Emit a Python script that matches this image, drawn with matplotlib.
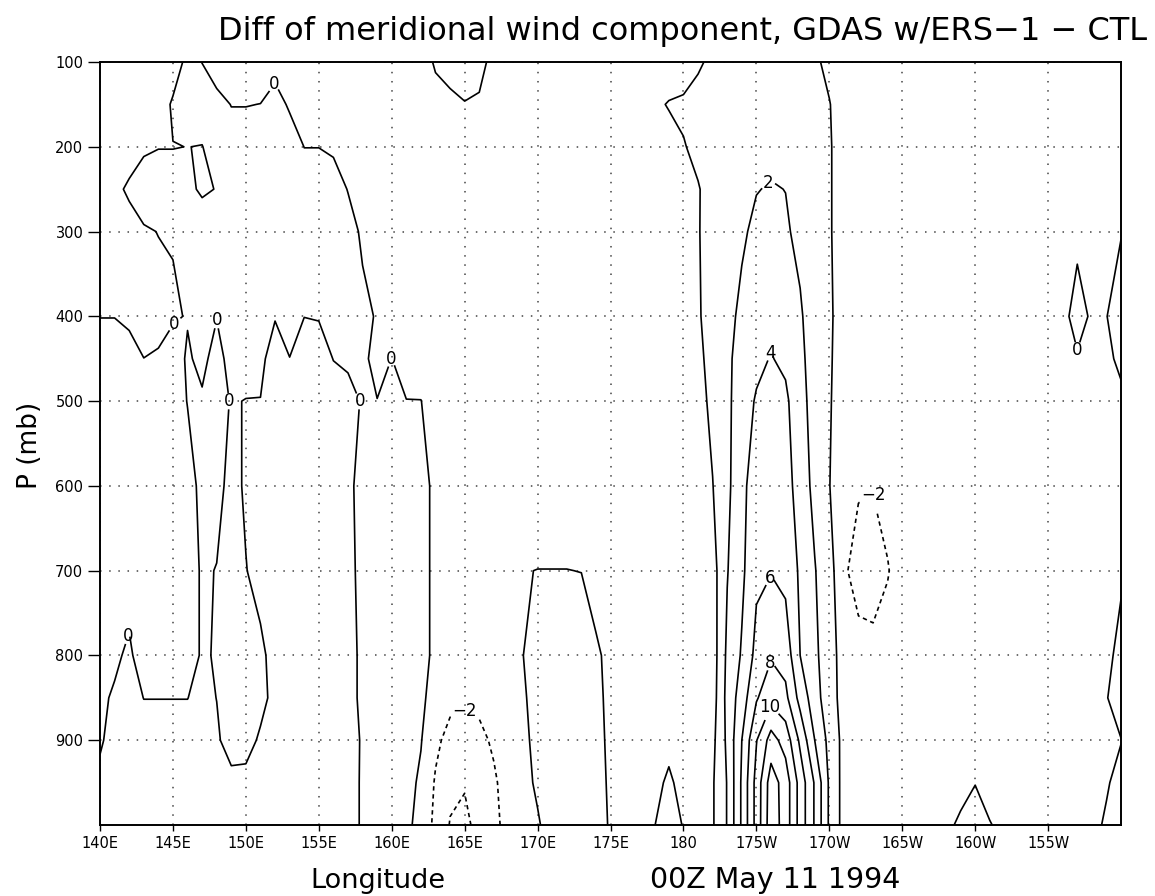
import matplotlib
matplotlib.use("Agg")
import matplotlib.pyplot as plt
import numpy as np

# --- Text -------------------------------------------------------------------
TITLE = "Diff of meridional wind component, GDAS w/ERS\u22121 \u2212 CTL"
YLABEL = "P (mb)"
XLABEL = "Longitude"
DATE_LABEL = "00Z May 11 1994"

# --- Grid: longitude (deg E, 210 = 150W) and pressure levels (mb) ------------
LON = list(range(140, 211))
PRES = [100, 150, 200, 250, 300, 400, 450, 500, 600, 700, 800, 850, 900, 950, 1000]

# --- Meridional wind difference (m/s), one list per level, 140E..150W -------
V100 = [
    -1.0, -1.0, -1.0, -1.0, -0.9, -0.8, 0.4, -0.02, -1.0, -1.0,
    -1.0, -1.0, -0.6, -1.0, -1.0, -1.0, -1.0, -1.0, -1.0, -1.0,
    -1.0, -1.0, -0.8, 0.2, 0.5, 0.6, 0.5, -0.5, -1.0, -1.0,
    -1.0, -1.0, -1.0, -1.0, -1.0, -1.0, -1.0, -1.0, -1.0, -1.0,
    -1.0, -0.2, 0.3, 0.6, 0.8, 1.0, 1.0, 0.9, 0.7, 0.2,
    -0.3, -0.8, -0.8, -0.8, -0.8, -0.8, -0.8, -0.8, -0.8, -0.8,
    -0.8, -0.8, -0.8, -0.8, -0.8, -0.8, -0.8, -0.8, -0.8, -0.8,
    -0.8]
V150 = [
    -0.9, -0.9, -0.9, -0.9, -0.8, 0.2, 0.6, 0.6, 0.6, -0.05,
    -0.05, 0.02, 0.6, -0.2, -0.8, -0.8, -0.8, -0.9, -1.0, -1.0,
    -1.0, -1.0, -1.0, -0.6, -0.3, -0.05, -0.2, -1.0, -1.0, -1.0,
    -1.0, -1.0, -1.0, -1.0, -1.0, -1.0, -1.0, -1.0, -0.3, 0.1,
    0.3, 0.5, 0.8, 1.0, 1.1, 1.3, 1.3, 1.2, 0.9, 0.6,
    0.05, -0.6, -0.8, -0.8, -0.8, -0.8, -0.8, -0.8, -0.8, -0.8,
    -0.8, -0.8, -0.8, -0.8, -0.8, -0.8, -0.8, -0.8, -0.8, -0.8,
    -0.8]
V200 = [
    -0.8, -0.8, -0.6, -0.15, -0.03, -0.03, 0.01, -0.03, 0.5, 0.8,
    0.8, 0.8, 0.8, 0.8, -0.02, -0.02, -0.2, -0.5, -0.8, -1.0,
    -1.0, -1.0, -1.0, -1.0, -1.0, -1.0, -1.0, -1.0, -1.0, -1.0,
    -1.0, -1.0, -1.0, -1.0, -1.0, -1.0, -1.0, -1.0, -1.0, -0.6,
    -0.1, 0.4, 0.8, 1.1, 1.3, 1.5, 1.6, 1.5, 1.2, 0.7,
    0.1, -0.5, -0.8, -0.8, -0.8, -0.8, -0.8, -0.8, -0.8, -0.8,
    -0.8, -0.8, -0.8, -0.8, -0.8, -0.8, -0.8, -0.8, -0.8, -0.8,
    -0.8]
V250 = [
    -0.8, -0.3, 0.2, 0.5, 0.5, 0.5, 0.3, -0.2, 0.05, 0.8,
    0.8, 0.8, 0.8, 0.8, 0.8, 0.8, 0.6, -0.05, -0.6, -0.9,
    -1.0, -1.0, -1.0, -1.0, -1.0, -1.0, -1.0, -1.0, -1.0, -1.0,
    -1.0, -1.0, -1.0, -1.0, -1.0, -1.0, -1.0, -1.0, -1.0, -1.0,
    -0.8, -0.1, 0.6, 1.2, 1.6, 1.95, 2.1, 1.98, 1.5, 0.8,
    0.1, -0.5, -0.8, -0.8, -0.8, -0.8, -0.8, -0.8, -0.8, -0.8,
    -0.8, -0.8, -0.8, -0.8, -0.8, -0.8, -0.8, -0.8, -0.8, -0.8,
    -0.8]
V300 = [
    -0.8, -0.8, -0.5, -0.1, 0.02, 0.05, 0.6, 0.8, 0.8, 0.8,
    0.8, 0.8, 0.8, 0.8, 0.8, 0.8, 0.8, 0.5, -0.2, -0.8,
    -1.0, -1.0, -1.0, -1.0, -1.0, -1.0, -1.0, -1.0, -1.0, -1.0,
    -1.0, -1.0, -1.0, -1.0, -1.0, -1.0, -1.0, -1.0, -1.0, -1.0,
    -0.8, -0.1, 0.7, 1.3, 1.8, 2.3, 2.5, 2.2, 1.6, 0.9,
    0.1, -0.5, -0.8, -0.8, -0.8, -0.8, -0.8, -0.8, -0.8, -0.8,
    -0.8, -0.8, -0.8, -0.8, -0.8, -0.8, -0.8, -0.5, -0.6, -0.6,
    -0.1]
V400 = [
    -0.02, -0.02, -0.15, -0.5, -0.3, -0.1, 0.05, 0.6, 0.03, 0.8,
    0.8, 0.6, 0.05, 0.5, 0.01, 0.05, 0.5, 0.5, 0.3, -0.1,
    -0.8, -1.0, -1.0, -1.0, -1.0, -1.0, -1.0, -1.0, -1.0, -1.0,
    -1.0, -1.0, -1.0, -1.0, -1.0, -1.0, -1.0, -1.0, -1.0, -1.0,
    -0.8, -0.2, 0.8, 1.6, 2.3, 3.0, 3.6, 3.2, 2.2, 1.1,
    0.2, -0.6, -0.8, -0.8, -0.8, -0.8, -0.8, -0.8, -0.8, -0.8,
    -0.8, -0.8, -0.8, -0.8, -0.8, -0.8, -0.6, 0.8, -0.3, -0.05,
    1.0]
V450 = [
    0.5, 0.5, 0.3, 0.01, 0.1, 0.4, -0.1, 0.2, -0.3, 0.3,
    0.3, 0.2, -0.4, -0.02, -0.4, -0.4, 0.02, 0.1, 0.2, -0.3,
    0.01, -0.4, -0.6, -0.8, -1.0, -1.0, -1.0, -1.0, -1.0, -1.0,
    -1.0, -1.0, -1.0, -1.0, -1.0, -1.0, -1.0, -1.0, -1.0, -1.0,
    -0.8, -0.4, 0.6, 1.7, 2.6, 3.5, 4.1, 3.6, 2.4, 1.2,
    0.15, -0.6, -0.8, -0.8, -0.8, -0.8, -0.8, -0.8, -0.8, -0.8,
    -0.8, -0.8, -0.8, -0.8, -0.8, -0.8, -0.8, -0.2, -0.5, -0.5,
    0.5]
V500 = [
    0.8, 0.8, 0.8, 0.8, 0.8, 0.8, -0.05, -0.1, -0.3, 0.05,
    -0.02, -0.02, -0.3, -0.5, -0.5, -0.5, -0.4, -0.2, 0.05, 0.02,
    0.3, 0.02, 0.02, -0.5, -1.0, -1.0, -1.0, -1.0, -1.0, -1.0,
    -1.0, -1.0, -1.0, -1.0, -1.0, -1.0, -1.0, -1.0, -1.0, -1.0,
    -0.8, -0.6, 0.4, 1.6, 3.0, 4.2, 4.6, 4.4, 2.6, 1.3,
    0.1, -0.6, -0.8, -0.8, -0.8, -0.8, -0.8, -0.8, -0.8, -0.8,
    -0.8, -0.8, -0.8, -0.8, -0.8, -0.8, -0.8, -0.8, -0.8, -0.8,
    -0.5]
V600 = [
    0.8, 0.8, 0.8, 0.8, 0.8, 0.8, 0.6, -0.4, -0.5, 0.5,
    -0.2, -0.6, -0.6, -0.6, -0.6, -0.6, -0.6, -0.4, 0.6, 0.6,
    0.6, 0.6, 0.6, -0.4, -1.0, -1.0, -1.0, -1.0, -1.0, -1.0,
    -1.0, -1.0, -1.0, -1.0, -1.0, -1.0, -1.0, -1.0, -1.0, -1.0,
    -0.8, -0.8, -0.05, 1.5, 3.6, 4.8, 5.3, 4.9, 3.0, 1.5,
    0.05, -1.2, -1.8, -1.9, -1.4, -1.0, -0.8, -0.8, -0.8, -0.8,
    -0.8, -0.8, -0.8, -0.8, -0.8, -0.8, -0.8, -0.8, -0.8, -0.8,
    -0.6]
V700 = [
    0.8, 0.8, 0.8, 0.8, 0.8, 0.8, 0.8, -0.2, 0.05, 0.6,
    0.05, -0.5, -0.6, -0.6, -0.6, -0.6, -0.6, -0.3, 0.3, 0.6,
    0.6, 0.6, 0.6, -0.4, -1.0, -1.0, -1.0, -1.0, -1.0, -0.05,
    0.02, 0.02, 0.02, -0.02, -0.8, -1.0, -1.0, -1.0, -1.0, -1.0,
    -0.8, -0.8, -0.8, 1.9, 3.6, 5.6, 5.9, 5.4, 3.7, 2.1,
    0.8, -1.7, -2.8, -2.8, -2.1, -1.2, -0.8, -0.8, -0.8, -0.8,
    -0.8, -0.8, -0.8, -0.8, -0.8, -0.8, -0.8, -0.8, -0.8, -0.8,
    -0.3]
V800 = [
    0.4, 0.3, -0.3, 0.9, 0.9, 0.9, 0.6, -0.15, 0.1, 0.6,
    0.6, 0.3, -0.5, -0.6, -0.6, -0.6, -0.6, -0.5, 0.3, 0.6,
    0.6, 0.6, 0.6, -0.4, -1.0, -1.0, -1.0, -1.0, -1.0, -0.02,
    0.8, 1.0, 1.0, 0.8, 0.3, -0.5, -1.0, -1.0, -1.0, -1.0,
    -0.8, -0.8, -1.0, 2.4, 4.2, 6.6, 7.8, 7.2, 4.0, 2.5,
    0.6, -0.6, -1.3, -1.5, -1.3, -1.0, -0.8, -0.8, -0.8, -0.8,
    -0.8, -0.8, -0.8, -0.8, -0.8, -0.8, -0.8, -0.8, -0.8, -0.5,
    0.6]
V850 = [
    0.3, -0.2, -0.5, 0.02, 0.02, 0.02, 0.02, -0.4, 0.02, 0.6,
    0.6, 0.4, -0.4, -0.6, -0.6, -0.6, -0.6, -0.5, 0.3, 0.6,
    0.6, 0.6, 0.5, -1.0, -1.5, -1.6, -1.5, -1.2, -1.0, -0.2,
    0.6, 1.0, 1.0, 1.0, 0.5, -0.5, -1.0, -1.0, -1.0, -1.0,
    -0.8, -0.8, -0.9, 2.6, 5.0, 7.8, 9.4, 8.5, 5.3, 2.9,
    0.7, -0.6, -1.0, -1.0, -1.0, -0.9, -0.8, -0.8, -0.8, -0.8,
    -0.8, -0.8, -0.8, -0.8, -0.8, -0.8, -0.8, -0.8, -0.8, -0.1,
    1.0]
V900 = [
    0.2, -0.6, -0.6, -0.6, -0.6, -0.6, -0.6, -0.6, -0.2, 0.6,
    0.5, -0.2, -0.6, -0.6, -0.6, -0.6, -0.6, -0.6, 0.15, 0.6,
    0.6, 0.6, 0.1, -1.6, -2.6, -2.9, -2.5, -1.7, -1.0, -0.4,
    0.5, 1.0, 1.0, 1.0, 0.6, -0.4, -1.0, -1.0, -1.0, -0.5,
    -1.0, -0.8, -0.5, 2.4, 6.0, 9.9, 12.8, 11.2, 7.6, 4.0,
    1.4, -0.6, -0.9, -0.9, -0.9, -0.8, -0.8, -0.8, -0.8, -0.8,
    -0.8, -0.8, -0.8, -0.8, -0.8, -0.8, -0.8, -0.8, -0.8, -0.6,
    -0.05]
V950 = [
    -0.4, -0.6, -0.6, -0.6, -0.6, -0.6, -0.6, -0.6, -0.5, -0.4,
    -0.4, -0.5, -0.6, -0.6, -0.6, -0.6, -0.6, -0.5, 0.15, 0.6,
    0.6, 0.6, -0.3, -2.2, -3.6, -3.9, -3.2, -2.3, -1.1, -0.6,
    0.3, 1.0, 1.0, 1.0, 0.7, -0.3, -1.0, -1.0, -0.5, 0.3,
    -0.6, -0.8, -0.2, 2.1, 6.3, 10.7, 15.0, 13.1, 9.2, 5.8,
    1.7, -0.7, -0.9, -0.9, -0.9, -0.8, -0.8, -0.8, -0.8, -0.8,
    -0.05, -0.8, -0.8, -0.8, -0.8, -0.8, -0.8, -0.8, -0.8, -0.15,
    0.5]
V1000 = [
    -0.6, -0.6, -0.6, -0.6, -0.6, -0.6, -0.6, -0.6, -0.6, -0.5,
    -0.5, -0.5, -0.5, -0.5, -0.5, -0.5, -0.5, -0.5, 0.15, 0.5,
    0.5, 0.4, -0.6, -2.5, -4.1, -4.3, -3.6, -2.6, -1.2, -0.8,
    -0.2, 0.8, 1.0, 1.0, 0.8, -0.2, -0.8, -0.8, -0.05, 0.8,
    -0.1, -0.8, -0.2, 2.1, 6.3, 10.7, 15.2, 13.1, 9.2, 5.8,
    1.7, -0.7, -0.8, -0.8, -0.8, -0.8, -0.8, -0.8, -0.5, 0.4,
    0.8, 0.1, -0.5, -0.8, -0.8, -0.8, -0.8, -0.8, -0.4, 0.2,
    0.6]

CONTOUR_LEVELS = [-4, -2, 0, 2, 4, 6, 8, 10, 12, 14]

# contour labels: (level, lon, pressure)
CONTOUR_LABELS = [
    (0, 151.85, 125), (0, 144.9, 405), (0, 147.9, 402), (0, 148.97, 500),
    (0, 157.9, 500), (0, 159.9, 449), (0, 141.9, 777), (0, 206.9, 445),
    (-2, 165.0, 865), (-2, 193.0, 608),
    (2, 185.8, 242), (4, 185.8, 442), (6, 185.9, 708),
    (8, 185.9, 808), (10, 185.9, 861),
]

XTICKS = [140, 145, 150, 155, 160, 165, 170, 175, 180, 185, 190, 195, 200, 205]
XTICK_LABELS = ["140E", "145E", "150E", "155E", "160E", "165E", "170E",
                "175E", "180", "175W", "170W", "165W", "160W", "155W"]
YTICKS = [100, 200, 300, 400, 500, 600, 700, 800, 900]

# --- Figure -------------------------------------------------------------------
plt.rcParams["font.family"] = "DejaVu Sans"
plt.rcParams["lines.dashed_pattern"] = [2.6, 2.2]

rows = [V100, V150, V200, V250, V300, V400, V450, V500, V600, V700,
        V800, V850, V900, V950, V1000]
assert all(len(r) == len(LON) for r in rows)
field = np.array(rows)

fig = plt.figure(figsize=(11.55, 8.96), dpi=100)
ax = fig.add_axes([0.0866, 0.0792, 0.884, 0.8516])


def label_fmt(v):
    return f"{v:.0f}".replace("-", "\u2212")


# one contour set per level, so each can be labelled at chosen spots
label_texts = []
for lv in CONTOUR_LEVELS:
    cs = ax.contour(LON, PRES, field, levels=[lv], colors="black",
                    linewidths=1.2,
                    linestyles="dashed" if lv < 0 else "solid", zorder=3)
    spots = [(x, y) for lev, x, y in CONTOUR_LABELS if lev == lv]
    if spots:
        texts = cs.clabel(manual=spots, inline=True, inline_spacing=3,
                          fontsize=12, colors="black", fmt=label_fmt)
        label_texts.extend(texts)
for t in label_texts:
    t.set_rotation(0)

ax.set_xlim(140, 210)
ax.set_ylim(1000, 100)
ax.set_xticks(XTICKS, XTICK_LABELS)
ax.set_yticks(YTICKS, [str(v) for v in YTICKS])
ax.tick_params(axis="y", direction="out", length=9, width=1.0,
               labelsize=10.5, pad=3)
ax.tick_params(axis="x", direction="out", length=4, width=1.0,
               labelsize=10.5, pad=4)
ax.grid(True, linestyle=(0, (1, 5)), linewidth=1.1, color="#444444")
ax.set_axisbelow(True)
for sp in ax.spines.values():
    sp.set_linewidth(1.4)

fig.text(0.591, 0.955, TITLE, ha="center", va="baseline", fontsize=23)
fig.text(0.026, 0.503, YLABEL, rotation=90, ha="center", va="center",
         fontsize=19)
fig.text(0.327, 0.009, XLABEL, ha="center", va="baseline", fontsize=19.5)
fig.text(0.671, 0.009, DATE_LABEL, ha="center", va="baseline", fontsize=20.5)

fig.savefig("out.png", dpi=100)
